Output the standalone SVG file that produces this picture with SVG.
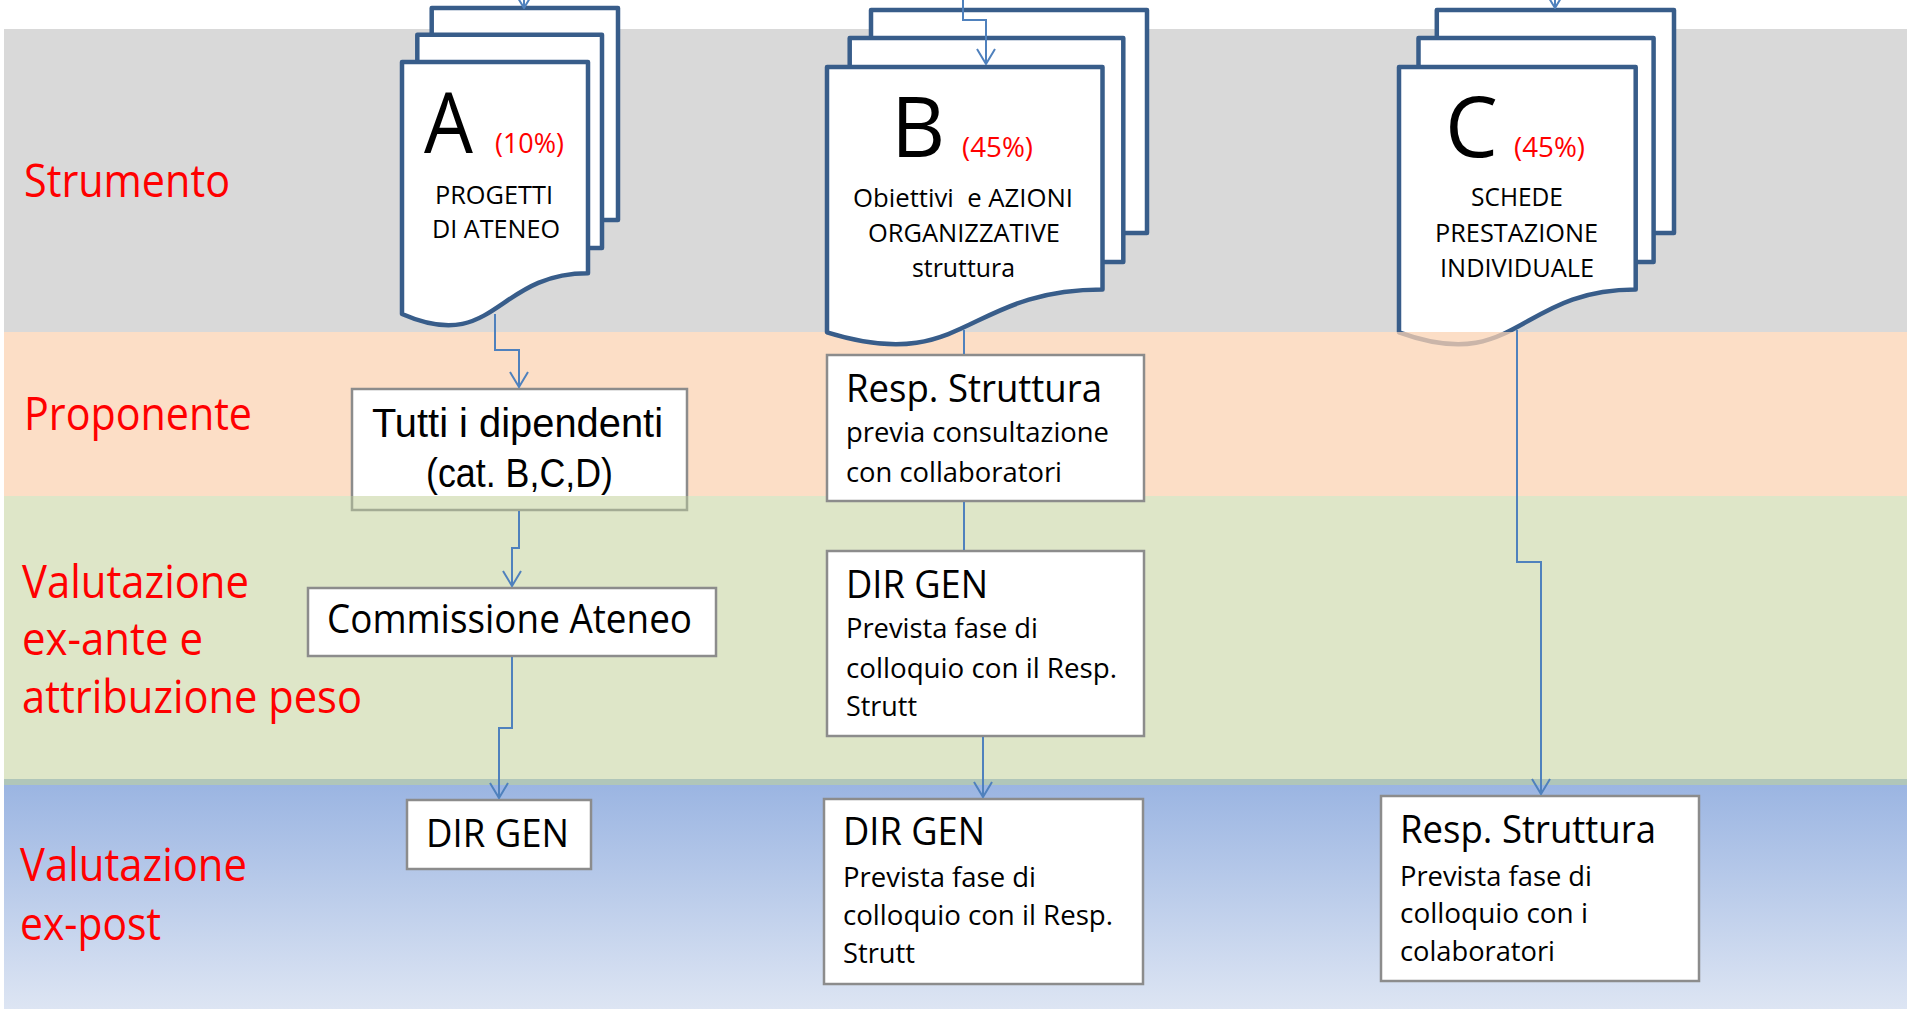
<svg xmlns="http://www.w3.org/2000/svg" width="1907" height="1009" viewBox="0 0 1907 1009">
<style>
text{font-family:"Open Sans","Liberation Sans",sans-serif;fill:#000}
.lane{font-size:46px;fill:#FF0000}
.big{font-size:84px}
.pct{font-size:28px;fill:#FF0000}
.doc{font-size:26px}
.h{font-size:39px}
.s{font-size:28px}
.tut{font-family:"Liberation Sans","Open Sans",sans-serif;font-size:41px}
.box{fill:#fff;stroke:#8C8C8C;stroke-width:2.5}
.page{fill:#fff;stroke:#385D8A;stroke-width:4.5;stroke-linejoin:round}
.conn{fill:none;stroke:#4F81BD;stroke-width:2}
</style>
<defs>
<linearGradient id="blueGrad" x1="0" y1="0" x2="0" y2="1">
<stop offset="0" stop-color="#9BB5E2"/>
<stop offset="1" stop-color="#DDE5F3"/>
</linearGradient>
<clipPath id="clipAbove"><rect x="0" y="0" width="1907" height="496"/></clipPath>
<marker id="arr" markerUnits="userSpaceOnUse" viewBox="0 0 17 20" refX="16" refY="10" markerWidth="17" markerHeight="20" orient="auto">
<path d="M1,1 L16,10 L1,19" fill="none" stroke="#4F81BD" stroke-width="2"/>
</marker>
</defs>
<rect x="0" y="0" width="1907" height="1009" fill="#fff"/>
<g id="lanes">
<rect x="4" y="29" width="1903" height="303" fill="#D9D9D9"/>
</g>
<g id="docC">
<rect x="1436.8" y="10" width="237.2" height="223" class="page"/>
<rect x="1418.5" y="38.1" width="235.1" height="224" class="page"/>
<path d="M1399,332.3 C1517.4,375.1 1517.4,289.5 1635.7,289.5 V67 H1399 Z" class="page"/>
<text x="1445" y="157" class="big">C</text>
<text x="1514" y="157" class="pct" textLength="71" lengthAdjust="spacingAndGlyphs">(45%)</text>
<text x="1471" y="206" class="doc" textLength="92" lengthAdjust="spacingAndGlyphs">SCHEDE</text>
<text x="1435" y="242" class="doc" textLength="163" lengthAdjust="spacingAndGlyphs">PRESTAZIONE</text>
<text x="1440" y="277" class="doc" textLength="154" lengthAdjust="spacingAndGlyphs">INDIVIDUALE</text>
</g>
<g id="lanes2">
<rect x="4" y="332" width="1903" height="164" fill="#FBD3B3" fill-opacity="0.75"/>
<rect x="4" y="496" width="1903" height="283" fill="#DEE6C8"/>
<rect x="4" y="779" width="1903" height="6" fill="#B0C6B9"/>
<rect x="4" y="785" width="1903" height="224" fill="url(#blueGrad)"/>
</g>
<g id="lane-labels">
<text x="24" y="197" class="lane" textLength="206" lengthAdjust="spacingAndGlyphs">Strumento</text>
<text x="24" y="430" class="lane" textLength="228" lengthAdjust="spacingAndGlyphs">Proponente</text>
<text x="22" y="598" class="lane" textLength="227" lengthAdjust="spacingAndGlyphs">Valutazione</text>
<text x="22" y="655" class="lane" textLength="181" lengthAdjust="spacingAndGlyphs">ex-ante e</text>
<text x="22" y="713" class="lane" textLength="340" lengthAdjust="spacingAndGlyphs">attribuzione peso</text>
<text x="20" y="881" class="lane" textLength="227" lengthAdjust="spacingAndGlyphs">Valutazione</text>
<text x="20" y="940" class="lane" textLength="141" lengthAdjust="spacingAndGlyphs">ex-post</text>
</g>
<g id="docA">
<rect x="431.7" y="8" width="186.3" height="212" class="page"/>
<rect x="417.3" y="34.7" width="184.7" height="213.3" class="page"/>
<path d="M402,314 C495,354.6 495,273.3 588,273.3 V62.1 H402 Z" class="page"/>
<text x="424" y="153" class="big" textLength="49" lengthAdjust="spacingAndGlyphs">A</text>
<text x="495" y="153" class="pct" textLength="69" lengthAdjust="spacingAndGlyphs">(10%)</text>
<text x="435" y="204" class="doc" textLength="118" lengthAdjust="spacingAndGlyphs">PROGETTI</text>
<text x="432" y="238" class="doc" textLength="128" lengthAdjust="spacingAndGlyphs">DI ATENEO</text>
</g>
<g id="docB">
<rect x="871" y="10" width="276" height="223" class="page"/>
<rect x="849.7" y="38.1" width="273.6" height="224" class="page"/>
<path d="M827,332.3 C964.75,375.1 964.75,289.5 1102.5,289.5 V67 H827 Z" class="page"/>
<text x="891" y="157" class="big">B</text>
<text x="962" y="157" class="pct" textLength="71" lengthAdjust="spacingAndGlyphs">(45%)</text>
<text x="853" y="207" class="doc" xml:space="preserve" textLength="220" lengthAdjust="spacingAndGlyphs">Obiettivi  e AZIONI</text>
<text x="868" y="242" class="doc" textLength="192" lengthAdjust="spacingAndGlyphs">ORGANIZZATIVE</text>
<text x="912" y="277" class="doc" textLength="103" lengthAdjust="spacingAndGlyphs">struttura</text>
</g>
<g id="node-tutti">
<rect x="352" y="389" width="335" height="107" fill="#fff"/>
<g clip-path="url(#clipAbove)">
<text x="372" y="437" class="tut" textLength="291" lengthAdjust="spacingAndGlyphs">Tutti i dipendenti</text>
<text x="426" y="487" class="tut" textLength="187" lengthAdjust="spacingAndGlyphs">(cat. B,C,D)</text>
</g>
<path d="M352,496 V389 H687 V496" fill="none" stroke="#8C8C8C" stroke-width="2.5"/>
<path d="M352,496 V510 H687 V496" fill="none" stroke="#A3AB94" stroke-width="2.5"/>
</g>
<g id="node-commissione">
<rect x="308" y="588" width="408" height="68" class="box"/>
<text x="327" y="633" style="font-size:40px" textLength="365" lengthAdjust="spacingAndGlyphs">Commissione Ateneo</text>
</g>
<g id="node-dirgen-a">
<rect x="407" y="800" width="184" height="69" class="box"/>
<text x="426" y="847" class="h" textLength="143" lengthAdjust="spacingAndGlyphs">DIR GEN</text>
</g>
<g id="node-resp-b">
<rect x="827" y="355" width="317" height="146" class="box"/>
<text x="846" y="402" style="font-size:38px" textLength="256" lengthAdjust="spacingAndGlyphs">Resp. Struttura</text>
<text x="846" y="442" class="s" textLength="263" lengthAdjust="spacingAndGlyphs">previa consultazione</text>
<text x="846" y="482" class="s" textLength="216" lengthAdjust="spacingAndGlyphs">con collaboratori</text>
</g>
<g id="node-dirgen-b1">
<rect x="827" y="551" width="317" height="185" class="box"/>
<text x="846" y="598" class="h" textLength="142" lengthAdjust="spacingAndGlyphs">DIR GEN</text>
<text x="846" y="638" class="s" textLength="192" lengthAdjust="spacingAndGlyphs">Prevista fase di</text>
<text x="846" y="678" class="s" textLength="271" lengthAdjust="spacingAndGlyphs">colloquio con il Resp.</text>
<text x="846" y="716" class="s" textLength="71" lengthAdjust="spacingAndGlyphs">Strutt</text>
</g>
<g id="node-dirgen-b2">
<rect x="824" y="799" width="319" height="185" class="box"/>
<text x="843" y="845" class="h" textLength="142" lengthAdjust="spacingAndGlyphs">DIR GEN</text>
<text x="843" y="887" class="s" textLength="193" lengthAdjust="spacingAndGlyphs">Prevista fase di</text>
<text x="843" y="925" class="s" textLength="270" lengthAdjust="spacingAndGlyphs">colloquio con il Resp.</text>
<text x="843" y="963" class="s" textLength="72" lengthAdjust="spacingAndGlyphs">Strutt</text>
</g>
<g id="node-resp-c">
<rect x="1381" y="796" width="318" height="185" class="box"/>
<text x="1400" y="843" style="font-size:38px" textLength="256" lengthAdjust="spacingAndGlyphs">Resp. Struttura</text>
<text x="1400" y="886" class="s" textLength="192" lengthAdjust="spacingAndGlyphs">Prevista fase di</text>
<text x="1400" y="923" class="s" textLength="188" lengthAdjust="spacingAndGlyphs">colloquio con i</text>
<text x="1400" y="961" class="s" textLength="155" lengthAdjust="spacingAndGlyphs">colaboratori</text>
</g>
<g id="connectors">
<path d="M524,-20 V8" class="conn" marker-end="url(#arr)"/>
<path d="M963,-5 V20 H986 V64" class="conn" marker-end="url(#arr)"/>
<path d="M1555,-20 V8" class="conn" marker-end="url(#arr)"/>
<path d="M495,314 V350 H519 V387" class="conn" marker-end="url(#arr)"/>
<path d="M519,511 V548 H512 V586" class="conn" marker-end="url(#arr)"/>
<path d="M512,657 V728 H499 V798" class="conn" marker-end="url(#arr)"/>
<path d="M964,330 V354" class="conn"/>
<path d="M964,502 V550" class="conn"/>
<path d="M983,737 V797" class="conn" marker-end="url(#arr)"/>
<path d="M1517,330 V562 H1541 V794" class="conn" marker-end="url(#arr)"/>
</g>
</svg>
